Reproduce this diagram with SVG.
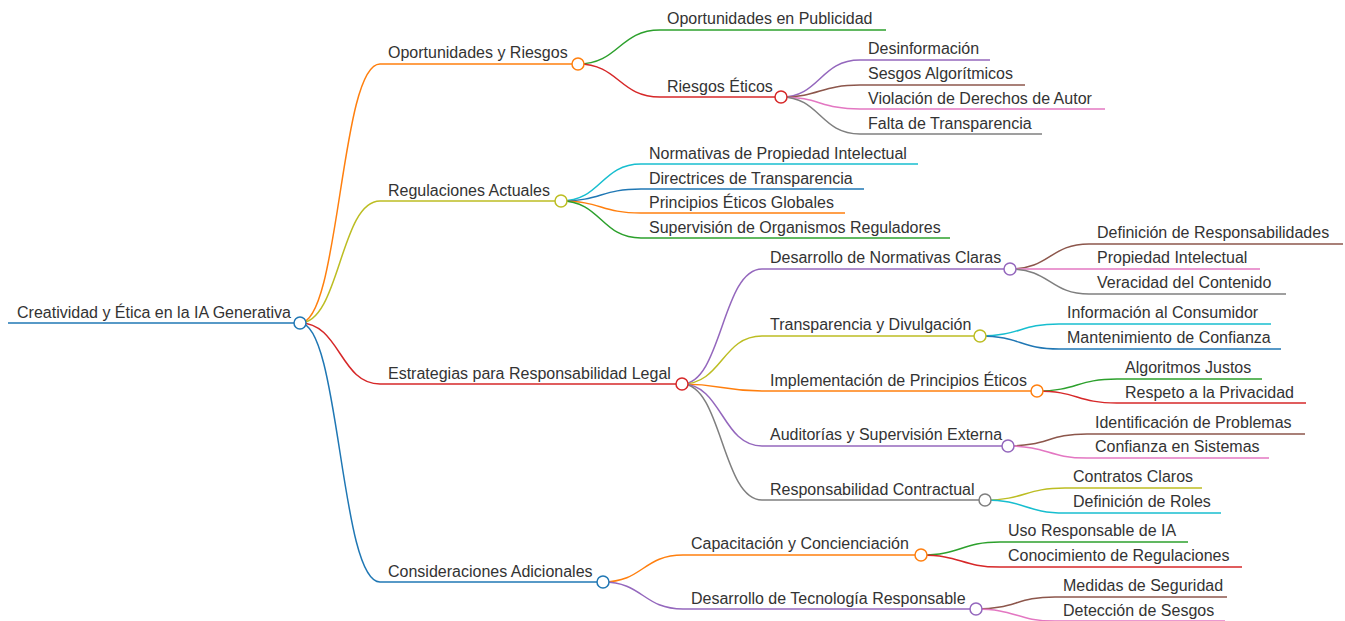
<svg xmlns="http://www.w3.org/2000/svg" width="1345" height="621" viewBox="0 0 1345 621">
<style>
text{font-family:"Liberation Sans",Arial,Helvetica,sans-serif;font-size:16px;fill:#333}
path,line{fill:none;stroke-width:1.5}
circle{fill:#fff;stroke-width:1.5}
.blue{stroke:#1f77b4}.orange{stroke:#ff7f0e}.green{stroke:#2ca02c}.red{stroke:#d62728}.purple{stroke:#9467bd}.brown{stroke:#8c564b}.pink{stroke:#e377c2}.gray{stroke:#7f7f7f}.olive{stroke:#bcbd22}.cyan{stroke:#17becf}
</style>
<rect width="1345" height="621" fill="#fff"/>
<g id="connectors">
<path class="orange" d="M300,323 C340,323 340,64 380,64"/>
<path class="olive" d="M300,323 C340,323 340,201 380,201"/>
<path class="red" d="M300,323 C340,323 340,384 380,384"/>
<path class="blue" d="M300,323 C340,323 340,582 380,582"/>
<path class="green" d="M578,64 C619,64 619,30 660,30"/>
<path class="red" d="M578,64 C619,64 619,97 660,97"/>
<path class="purple" d="M781,97 C820,97 820,60 860,60"/>
<path class="brown" d="M781,97 C820,97 820,85 860,85"/>
<path class="pink" d="M781,97 C820,97 820,109 860,109"/>
<path class="gray" d="M781,97 C820,97 820,134 860,134"/>
<path class="cyan" d="M561,201 C601,201 601,164 641,164"/>
<path class="blue" d="M561,201 C601,201 601,189 641,189"/>
<path class="orange" d="M561,201 C601,201 601,213 641,213"/>
<path class="green" d="M561,201 C601,201 601,238 641,238"/>
<path class="purple" d="M682,384 C722,384 722,269 762,269"/>
<path class="olive" d="M682,384 C722,384 722,336 762,336"/>
<path class="orange" d="M682,384 C722,384 722,391 762,391"/>
<path class="purple" d="M682,384 C722,384 722,446 762,446"/>
<path class="gray" d="M682,384 C722,384 722,500 762,500"/>
<path class="brown" d="M1010,269 C1050,269 1050,244 1089,244"/>
<path class="pink" d="M1010,269 C1050,269 1050,269 1089,269"/>
<path class="gray" d="M1010,269 C1050,269 1050,294 1089,294"/>
<path class="cyan" d="M980,336 C1020,336 1020,324 1059,324"/>
<path class="blue" d="M980,336 C1020,336 1020,349 1059,349"/>
<path class="green" d="M1037,391 C1077,391 1077,379 1117,379"/>
<path class="red" d="M1037,391 C1077,391 1077,403 1117,403"/>
<path class="brown" d="M1008,446 C1048,446 1048,434 1087,434"/>
<path class="pink" d="M1008,446 C1048,446 1048,458 1087,458"/>
<path class="olive" d="M985,500 C1025,500 1025,488 1065,488"/>
<path class="cyan" d="M985,500 C1025,500 1025,513 1065,513"/>
<path class="orange" d="M603,582 C643,582 643,555 683,555"/>
<path class="purple" d="M603,582 C643,582 643,609 683,609"/>
<path class="green" d="M921,555 C961,555 961,542 1000,542"/>
<path class="red" d="M921,555 C961,555 961,567 1000,567"/>
<path class="brown" d="M976,609 C1016,609 1016,597 1055,597"/>
<path class="pink" d="M976,609 C1016,609 1016,621 1055,621"/>
</g>
<g id="n-root"><line class="blue" x1="8" y1="323" x2="300" y2="323"/><text x="17" y="318">Creatividad y Ética en la IA Generativa</text><circle class="blue" cx="300" cy="323" r="6"/></g>
<g id="n-oport"><line class="orange" x1="380" y1="64" x2="578" y2="64"/><text x="388" y="58">Oportunidades y Riesgos</text><circle class="orange" cx="578" cy="64" r="6"/></g>
<g id="n-publi"><line class="green" x1="660" y1="30" x2="886" y2="30"/><text x="667" y="24">Oportunidades en Publicidad</text></g>
<g id="n-riesgos"><line class="red" x1="660" y1="97" x2="781" y2="97"/><text x="667" y="92">Riesgos Éticos</text><circle class="red" cx="781" cy="97" r="6"/></g>
<g id="n-desinf"><line class="purple" x1="860" y1="60" x2="990" y2="60"/><text x="868" y="54">Desinformación</text></g>
<g id="n-sesgos"><line class="brown" x1="860" y1="85" x2="1025" y2="85"/><text x="868" y="79">Sesgos Algorítmicos</text></g>
<g id="n-violacion"><line class="pink" x1="860" y1="109" x2="1105" y2="109"/><text x="868" y="104">Violación de Derechos de Autor</text></g>
<g id="n-falta"><line class="gray" x1="860" y1="134" x2="1042" y2="134"/><text x="868" y="129">Falta de Transparencia</text></g>
<g id="n-regul"><line class="olive" x1="380" y1="201" x2="561" y2="201"/><text x="388" y="196">Regulaciones Actuales</text><circle class="olive" cx="561" cy="201" r="6"/></g>
<g id="n-normprop"><line class="cyan" x1="641" y1="164" x2="918" y2="164"/><text x="649" y="159">Normativas de Propiedad Intelectual</text></g>
<g id="n-direct"><line class="blue" x1="641" y1="189" x2="864" y2="189"/><text x="649" y="184">Directrices de Transparencia</text></g>
<g id="n-princglob"><line class="orange" x1="641" y1="213" x2="845" y2="213"/><text x="649" y="208">Principios Éticos Globales</text></g>
<g id="n-superv"><line class="green" x1="641" y1="238" x2="950" y2="238"/><text x="649" y="233">Supervisión de Organismos Reguladores</text></g>
<g id="n-estrat"><line class="red" x1="380" y1="384" x2="682" y2="384"/><text x="388" y="379">Estrategias para Responsabilidad Legal</text><circle class="red" cx="682" cy="384" r="6"/></g>
<g id="n-desnorm"><line class="purple" x1="762" y1="269" x2="1010" y2="269"/><text x="770" y="263">Desarrollo de Normativas Claras</text><circle class="purple" cx="1010" cy="269" r="6"/></g>
<g id="n-defresp"><line class="brown" x1="1089" y1="244" x2="1343" y2="244"/><text x="1097" y="238">Definición de Responsabilidades</text></g>
<g id="n-propint"><line class="pink" x1="1089" y1="269" x2="1260" y2="269"/><text x="1097" y="263">Propiedad Intelectual</text></g>
<g id="n-verac"><line class="gray" x1="1089" y1="294" x2="1286" y2="294"/><text x="1097" y="288">Veracidad del Contenido</text></g>
<g id="n-transdiv"><line class="olive" x1="762" y1="336" x2="980" y2="336"/><text x="770" y="330">Transparencia y Divulgación</text><circle class="olive" cx="980" cy="336" r="6"/></g>
<g id="n-infocons"><line class="cyan" x1="1059" y1="324" x2="1271" y2="324"/><text x="1067" y="318">Información al Consumidor</text></g>
<g id="n-mantconf"><line class="blue" x1="1059" y1="349" x2="1281" y2="349"/><text x="1067" y="343">Mantenimiento de Confianza</text></g>
<g id="n-implem"><line class="orange" x1="762" y1="391" x2="1037" y2="391"/><text x="770" y="386">Implementación de Principios Éticos</text><circle class="orange" cx="1037" cy="391" r="6"/></g>
<g id="n-algjust"><line class="green" x1="1117" y1="379" x2="1262" y2="379"/><text x="1125" y="373">Algoritmos Justos</text></g>
<g id="n-respriv"><line class="red" x1="1117" y1="403" x2="1306" y2="403"/><text x="1125" y="398">Respeto a la Privacidad</text></g>
<g id="n-audit"><line class="purple" x1="762" y1="446" x2="1008" y2="446"/><text x="770" y="440">Auditorías y Supervisión Externa</text><circle class="purple" cx="1008" cy="446" r="6"/></g>
<g id="n-identprob"><line class="brown" x1="1087" y1="434" x2="1305" y2="434"/><text x="1095" y="428">Identificación de Problemas</text></g>
<g id="n-confsist"><line class="pink" x1="1087" y1="458" x2="1269" y2="458"/><text x="1095" y="452">Confianza en Sistemas</text></g>
<g id="n-respcont"><line class="gray" x1="762" y1="500" x2="985" y2="500"/><text x="770" y="495">Responsabilidad Contractual</text><circle class="gray" cx="985" cy="500" r="6"/></g>
<g id="n-contratos"><line class="olive" x1="1065" y1="488" x2="1202" y2="488"/><text x="1073" y="482">Contratos Claros</text></g>
<g id="n-defroles"><line class="cyan" x1="1065" y1="513" x2="1221" y2="513"/><text x="1073" y="507">Definición de Roles</text></g>
<g id="n-consid"><line class="blue" x1="380" y1="582" x2="603" y2="582"/><text x="388" y="577">Consideraciones Adicionales</text><circle class="blue" cx="603" cy="582" r="6"/></g>
<g id="n-capac"><line class="orange" x1="683" y1="555" x2="921" y2="555"/><text x="691" y="549">Capacitación y Concienciación</text><circle class="orange" cx="921" cy="555" r="6"/></g>
<g id="n-uso"><line class="green" x1="1000" y1="542" x2="1188" y2="542"/><text x="1008" y="536">Uso Responsable de IA</text></g>
<g id="n-conoc"><line class="red" x1="1000" y1="567" x2="1242" y2="567"/><text x="1008" y="561">Conocimiento de Regulaciones</text></g>
<g id="n-destec"><line class="purple" x1="683" y1="609" x2="976" y2="609"/><text x="691" y="604">Desarrollo de Tecnología Responsable</text><circle class="purple" cx="976" cy="609" r="6"/></g>
<g id="n-medidas"><line class="brown" x1="1055" y1="597" x2="1227" y2="597"/><text x="1063" y="591">Medidas de Seguridad</text></g>
<g id="n-detec"><line class="pink" x1="1055" y1="621" x2="1225" y2="621"/><text x="1063" y="616">Detección de Sesgos</text></g>
</svg>
